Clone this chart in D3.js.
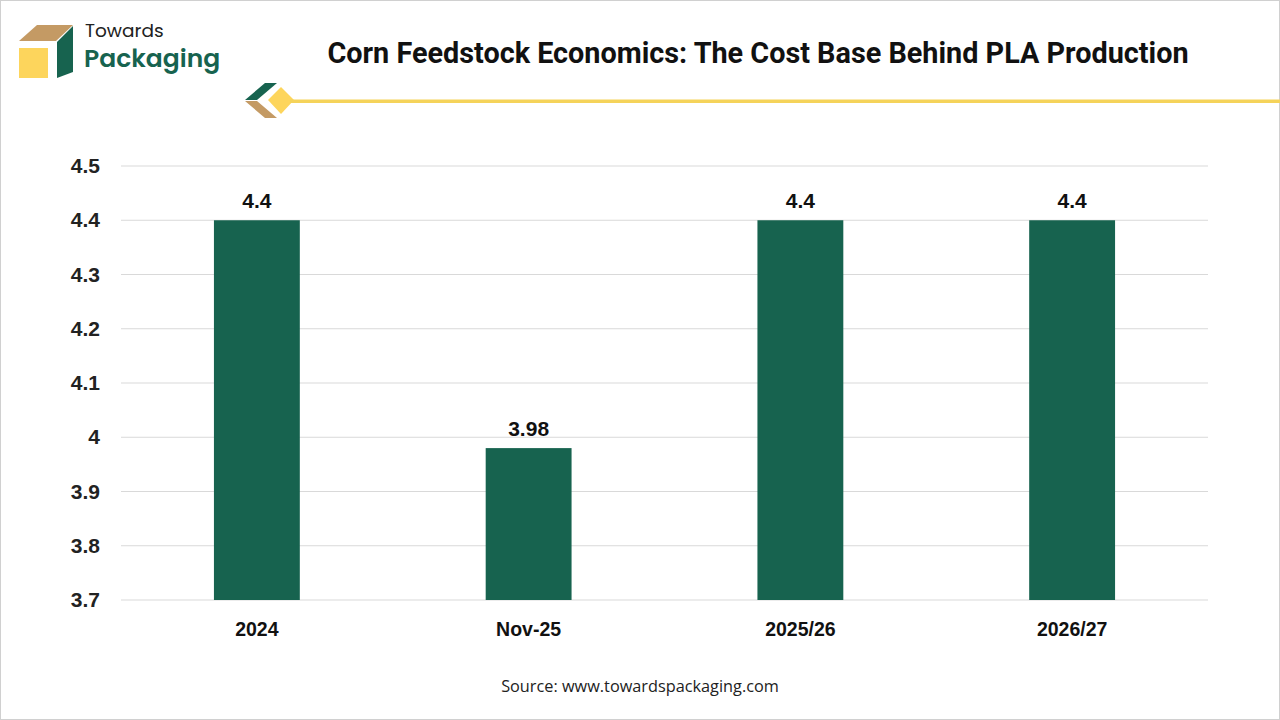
<!DOCTYPE html>
<html><head><meta charset="utf-8">
<script src="https://cdn.jsdelivr.net/npm/d3@7"></script>
<style>body{margin:0;background:#fff}svg{display:block}</style>
</head><body>
<svg id="c" width="1280" height="720"></svg>
<script>
const categories = ["2024","Nov-25","2025/26","2026/27"];
const values = [4.4,3.98,4.4,4.4];
const labels = ["4.4","3.98","4.4","4.4"];
const yTicks = [3.7,3.8,3.9,4,4.1,4.2,4.3,4.4,4.5];

const svg = d3.select("#c");
svg.append("rect").attr("x",0.5).attr("y",0.5).attr("width",1279).attr("height",719).attr("fill","#fff").attr("stroke","#d0d0d0");

// logo
const g = svg.append("g");
g.append("polygon").attr("points","19,41 56,41 73,25 37,25").attr("fill","#c49a64");
g.append("rect").attr("x",19).attr("y",48).attr("width",29).attr("height",30).attr("fill","#fdd55c");
g.append("polygon").attr("points","57,42 73,26 73,72 57,78").attr("fill","#17634f");
g.append("text").attr("x",85).attr("y",37).attr("font-family","Poppins, Inter, sans-serif").attr("font-size",18.5).attr("fill","#222").text("Towards");
g.append("text").attr("x",84).attr("y",67).attr("font-family","Poppins, Inter, sans-serif").attr("font-size",25).attr("font-weight",600).attr("fill","#17634f").text("Packaging");
// deco
g.append("polygon").attr("points","245,100 265,83 277,83 257,100").attr("fill","#17634f");
g.append("polygon").attr("points","245,101 257,101 277,118 265,118").attr("fill","#c49a64");
g.append("polygon").attr("points","281,87 294,100 281,114 268,100").attr("fill","#fdd55c");
g.append("rect").attr("x",290).attr("y",99.5).attr("width",990).attr("height",3.5).attr("fill","#f5d35a");

svg.append("text").attr("x",758).attr("y",63).attr("text-anchor","middle").attr("font-family","Roboto, sans-serif").attr("font-weight",700).attr("font-size",28.8).attr("fill","#111").text("Corn Feedstock Economics: The Cost Base Behind PLA Production");

const y = d3.scaleLinear().domain([3.7,4.5]).range([600,166]);
const x = d3.scaleBand().domain(categories).range([121,1208]).paddingInner(0.684).paddingOuter(0.342);

const grid = svg.append("g");
yTicks.forEach(t=>{
  grid.append("line").attr("x1",121).attr("x2",1208).attr("y1",y(t)).attr("y2",y(t)).attr("stroke","#d9d9d9");
  grid.append("text").attr("x",100).attr("y",y(t)+7).attr("text-anchor","end").attr("font-family","Arial, Liberation Sans, sans-serif").attr("font-weight",700).attr("font-size",21).attr("fill","#222").text(d3.format("")(t));
});

svg.selectAll(".bar").data(values).join("rect").attr("x",(d,i)=>x(categories[i])).attr("width",x.bandwidth())
  .attr("y",d=>y(d)).attr("height",d=>600-y(d)).attr("fill","#17634f");
svg.selectAll(".lbl").data(values).join("text").attr("x",(d,i)=>x(categories[i])+x.bandwidth()/2).attr("y",d=>y(d)-12)
  .attr("text-anchor","middle").attr("font-family","Arial, Liberation Sans, sans-serif").attr("font-weight",700).attr("font-size",21).attr("fill","#111").text((d,i)=>labels[i]);
svg.selectAll(".cat").data(categories).join("text").attr("x",d=>x(d)+x.bandwidth()/2).attr("y",636)
  .attr("text-anchor","middle").attr("font-family","Arial, Liberation Sans, sans-serif").attr("font-weight",700).attr("font-size",19.5).attr("fill","#111").text(d=>d);

svg.append("text").attr("x",640).attr("y",692).attr("text-anchor","middle").attr("font-family","Open Sans, sans-serif").attr("font-size",16.3).attr("fill","#222").text("Source: www.towardspackaging.com");
</script>
</body></html>
